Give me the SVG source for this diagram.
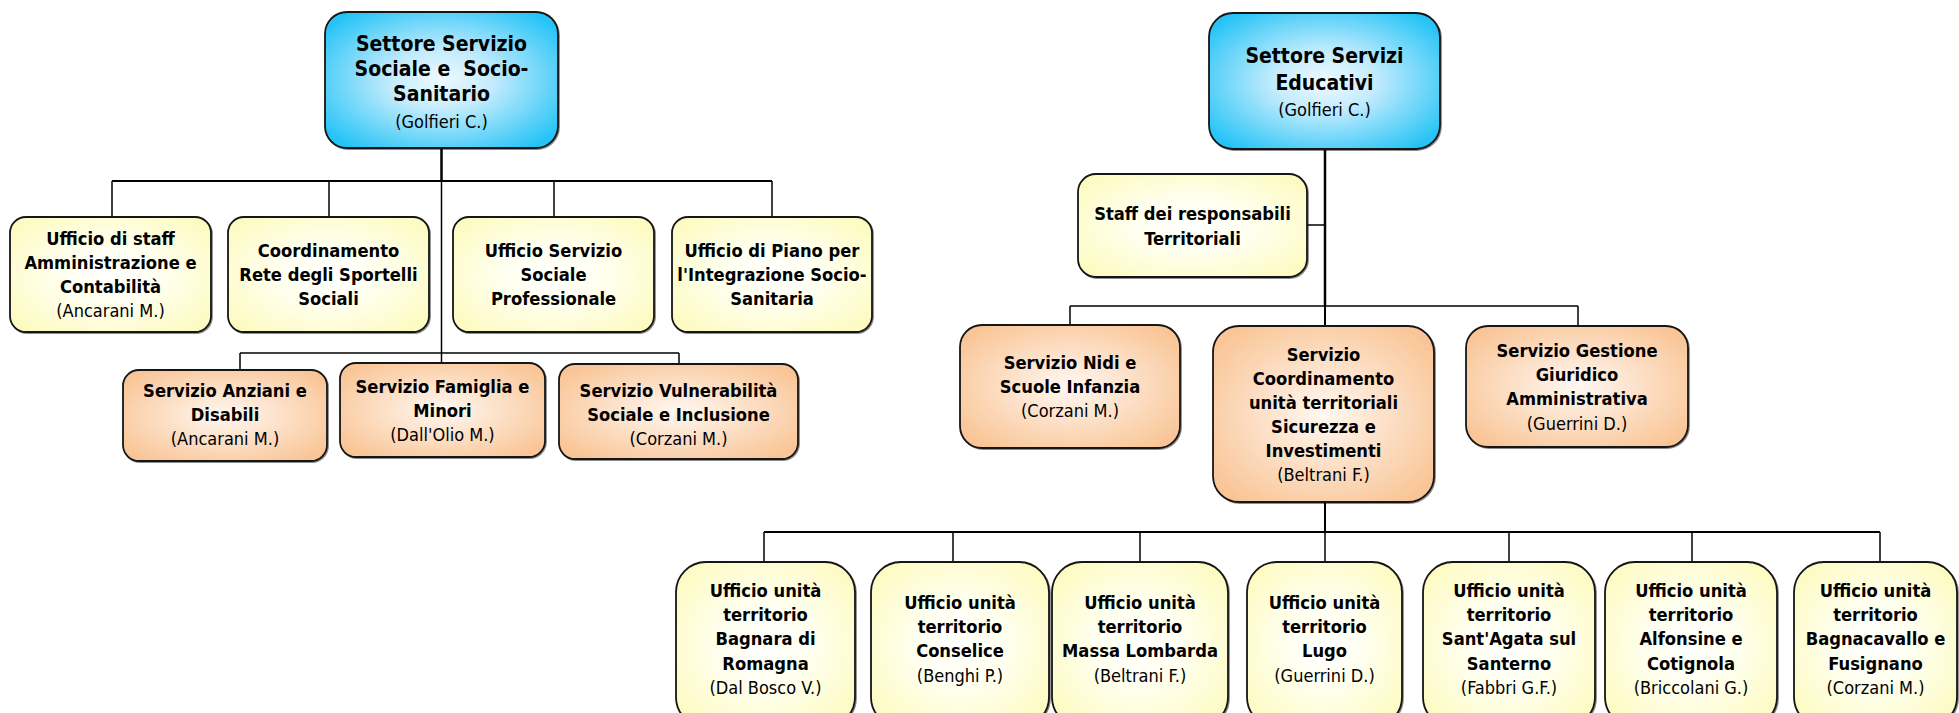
<svg xmlns="http://www.w3.org/2000/svg" width="1959" height="713" viewBox="0 0 1959 713">
<defs>
<radialGradient id="gBlue" cx="0.5" cy="0.5" r="0.62">
<stop offset="0" stop-color="#eef9ff"/>
<stop offset="0.35" stop-color="#c4ecfd"/>
<stop offset="1" stop-color="#27c4f6"/>
</radialGradient>
<radialGradient id="gYellow" cx="0.5" cy="0.5" r="0.62">
<stop offset="0" stop-color="#ffffff"/>
<stop offset="0.4" stop-color="#fffff0"/>
<stop offset="1" stop-color="#fdfbc2"/>
</radialGradient>
<radialGradient id="gOrange" cx="0.5" cy="0.5" r="0.62">
<stop offset="0" stop-color="#fff8f2"/>
<stop offset="0.35" stop-color="#fde6d2"/>
<stop offset="1" stop-color="#f9c596"/>
</radialGradient>
<filter id="sh" x="-5%" y="-5%" width="110%" height="110%">
<feDropShadow dx="1" dy="1" stdDeviation="0.6" flood-color="#000" flood-opacity="0.45"/>
</filter>
</defs>
<style>
.box{stroke:#141414;stroke-width:1.8;filter:url(#sh)}
.blue{fill:url(#gBlue)}
.yel{fill:url(#gYellow)}
.ora{fill:url(#gOrange)}
text{font-family:"DejaVu Sans Condensed","DejaVu Sans",Verdana,sans-serif;font-stretch:condensed;text-anchor:middle;fill:#000}
.t{font-size:21px;font-weight:bold}
.b{font-size:18.2px;font-weight:bold}
.n{font-size:18px;font-weight:normal}
.c{stroke:#000;fill:none}
.w1{stroke-width:1.5}
.w2{stroke-width:2}
.w3{stroke-width:2.5}
</style>
<rect width="1959" height="713" fill="#ffffff"/>

<g id="connectors">
<line class="c w3" x1="441.5" y1="148" x2="441.5" y2="181"/>
<line class="c w2" x1="112" y1="181" x2="772" y2="181"/>
<line class="c w1" x1="112" y1="181" x2="112" y2="217"/>
<line class="c w1" x1="329" y1="181" x2="329" y2="217"/>
<line class="c w1" x1="554" y1="181" x2="554" y2="217"/>
<line class="c w1" x1="772" y1="181" x2="772" y2="217"/>
<line class="c w1" x1="441.5" y1="181" x2="441.5" y2="363"/>
<line class="c w1" x1="240" y1="353" x2="679" y2="353"/>
<line class="c w1" x1="240" y1="353" x2="240" y2="370"/>
<line class="c w1" x1="679" y1="353" x2="679" y2="364"/>

<line class="c w3" x1="1325" y1="149" x2="1325" y2="306"/>
<line class="c w2" x1="1325" y1="306" x2="1325" y2="326"/>
<line class="c w1" x1="1307" y1="225" x2="1325" y2="225"/>
<line class="c w1" x1="1070" y1="306" x2="1578" y2="306"/>
<line class="c w1" x1="1070" y1="306" x2="1070" y2="325"/>
<line class="c w1" x1="1578" y1="306" x2="1578" y2="326"/>
<line class="c w2" x1="1325" y1="502" x2="1325" y2="532"/>
<line class="c w2" x1="764" y1="532" x2="1880" y2="532"/>
<line class="c w1" x1="764" y1="532" x2="764" y2="562"/>
<line class="c w1" x1="953" y1="532" x2="953" y2="562"/>
<line class="c w1" x1="1140" y1="532" x2="1140" y2="562"/>
<line class="c w1" x1="1325" y1="532" x2="1325" y2="562"/>
<line class="c w1" x1="1509" y1="532" x2="1509" y2="562"/>
<line class="c w1" x1="1692" y1="532" x2="1692" y2="562"/>
<line class="c w1" x1="1880" y1="532" x2="1880" y2="562"/>
</g>

<g id="settore-sociale">
<rect class="box blue" x="325" y="12" width="233" height="136" rx="22"/>
<text class="t" x="441.5" y="51">Settore Servizio</text>
<text class="t" x="441.5" y="76" style="white-space:pre">Sociale e  Socio-</text>
<text class="t" x="441.5" y="101">Sanitario</text>
<text class="n" x="441.5" y="128">(Golfieri C.)</text>
</g>

<g id="staff-amministrazione">
<rect class="box yel" x="10" y="217" width="201" height="115" rx="16"/>
<text class="b" x="110.5" y="244.5">Ufficio di staff</text>
<text class="b" x="110.5" y="268.5">Amministrazione e</text>
<text class="b" x="110.5" y="292.5">Contabilità</text>
<text class="n" x="110.5" y="316.5">(Ancarani M.)</text>
</g>

<g id="coordinamento-sportelli">
<rect class="box yel" x="228" y="217" width="201" height="115" rx="16"/>
<text class="b" x="328.5" y="256.5">Coordinamento</text>
<text class="b" x="328.5" y="280.5">Rete degli Sportelli</text>
<text class="b" x="328.5" y="304.5">Sociali</text>
</g>

<g id="servizio-sociale-professionale">
<rect class="box yel" x="453" y="217" width="201" height="115" rx="16"/>
<text class="b" x="553.5" y="256.5">Ufficio Servizio</text>
<text class="b" x="553.5" y="280.5">Sociale</text>
<text class="b" x="553.5" y="304.5">Professionale</text>
</g>

<g id="ufficio-piano">
<rect class="box yel" x="672" y="217" width="200" height="115" rx="16"/>
<text class="b" x="772" y="256.5">Ufficio di Piano per</text>
<text class="b" x="772" y="280.5">l'Integrazione Socio-</text>
<text class="b" x="772" y="304.5">Sanitaria</text>
</g>

<g id="anziani-disabili">
<rect class="box ora" x="123" y="370" width="204" height="91" rx="16"/>
<text class="b" x="225" y="397">Servizio Anziani e</text>
<text class="b" x="225" y="421">Disabili</text>
<text class="n" x="225" y="445">(Ancarani M.)</text>
</g>

<g id="famiglia-minori">
<rect class="box ora" x="340" y="363" width="205" height="94" rx="16"/>
<text class="b" x="442.5" y="393">Servizio Famiglia e</text>
<text class="b" x="442.5" y="417">Minori</text>
<text class="n" x="442.5" y="441">(Dall'Olio M.)</text>
</g>

<g id="vulnerabilita">
<rect class="box ora" x="559" y="364" width="239" height="95" rx="16"/>
<text class="b" x="678.5" y="397">Servizio Vulnerabilità</text>
<text class="b" x="678.5" y="421">Sociale e Inclusione</text>
<text class="n" x="678.5" y="445">(Corzani M.)</text>
</g>

<g id="settore-educativi">
<rect class="box blue" x="1209" y="13" width="231" height="136" rx="24"/>
<text class="t" x="1324.5" y="63">Settore Servizi</text>
<text class="t" x="1324.5" y="90">Educativi</text>
<text class="n" x="1324.5" y="116">(Golfieri C.)</text>
</g>

<g id="staff-responsabili">
<rect class="box yel" x="1078" y="174" width="229" height="103" rx="18"/>
<text class="b" x="1192.5" y="220">Staff dei responsabili</text>
<text class="b" x="1192.5" y="245">Territoriali</text>
</g>

<g id="nidi-infanzia">
<rect class="box ora" x="960" y="325" width="220" height="123" rx="22"/>
<text class="b" x="1070" y="368.5">Servizio Nidi e</text>
<text class="b" x="1070" y="392.5">Scuole Infanzia</text>
<text class="n" x="1070" y="416.5">(Corzani M.)</text>
</g>

<g id="coordinamento-unita">
<rect class="box ora" x="1213" y="326" width="221" height="176" rx="26"/>
<text class="b" x="1323.5" y="361">Servizio</text>
<text class="b" x="1323.5" y="385">Coordinamento</text>
<text class="b" x="1323.5" y="409">unità territoriali</text>
<text class="b" x="1323.5" y="433">Sicurezza e</text>
<text class="b" x="1323.5" y="457">Investimenti</text>
<text class="n" x="1323.5" y="481">(Beltrani F.)</text>
</g>

<g id="gestione-giuridico">
<rect class="box ora" x="1466" y="326" width="222" height="121" rx="22"/>
<text class="b" x="1577" y="357">Servizio Gestione</text>
<text class="b" x="1577" y="381">Giuridico</text>
<text class="b" x="1577" y="405">Amministrativa</text>
<text class="n" x="1577" y="430">(Guerrini D.)</text>
</g>

<g id="unita-bagnara">
<rect class="box yel" x="676" y="562" width="179" height="165" rx="30"/>
<text class="b" x="765.5" y="597">Ufficio unità</text>
<text class="b" x="765.5" y="621">territorio</text>
<text class="b" x="765.5" y="645">Bagnara di</text>
<text class="b" x="765.5" y="670">Romagna</text>
<text class="n" x="765.5" y="694">(Dal Bosco V.)</text>
</g>

<g id="unita-conselice">
<rect class="box yel" x="871" y="562" width="178" height="165" rx="30"/>
<text class="b" x="960" y="609">Ufficio unità</text>
<text class="b" x="960" y="633">territorio</text>
<text class="b" x="960" y="657">Conselice</text>
<text class="n" x="960" y="682">(Benghi P.)</text>
</g>

<g id="unita-massa">
<rect class="box yel" x="1052" y="562" width="176" height="165" rx="30"/>
<text class="b" x="1140" y="609">Ufficio unità</text>
<text class="b" x="1140" y="633">territorio</text>
<text class="b" x="1140" y="657">Massa Lombarda</text>
<text class="n" x="1140" y="682">(Beltrani F.)</text>
</g>

<g id="unita-lugo">
<rect class="box yel" x="1247" y="562" width="155" height="165" rx="30"/>
<text class="b" x="1324.5" y="609">Ufficio unità</text>
<text class="b" x="1324.5" y="633">territorio</text>
<text class="b" x="1324.5" y="657">Lugo</text>
<text class="n" x="1324.5" y="682">(Guerrini D.)</text>
</g>

<g id="unita-santagata">
<rect class="box yel" x="1423" y="562" width="172" height="165" rx="30"/>
<text class="b" x="1509" y="597">Ufficio unità</text>
<text class="b" x="1509" y="621">territorio</text>
<text class="b" x="1509" y="645">Sant'Agata sul</text>
<text class="b" x="1509" y="670">Santerno</text>
<text class="n" x="1509" y="694">(Fabbri G.F.)</text>
</g>

<g id="unita-alfonsine">
<rect class="box yel" x="1605" y="562" width="172" height="165" rx="30"/>
<text class="b" x="1691" y="597">Ufficio unità</text>
<text class="b" x="1691" y="621">territorio</text>
<text class="b" x="1691" y="645">Alfonsine e</text>
<text class="b" x="1691" y="670">Cotignola</text>
<text class="n" x="1691" y="694">(Briccolani G.)</text>
</g>

<g id="unita-bagnacavallo">
<rect class="box yel" x="1794" y="562" width="163" height="165" rx="30"/>
<text class="b" x="1875.5" y="597">Ufficio unità</text>
<text class="b" x="1875.5" y="621">territorio</text>
<text class="b" x="1875.5" y="645">Bagnacavallo e</text>
<text class="b" x="1875.5" y="670">Fusignano</text>
<text class="n" x="1875.5" y="694">(Corzani M.)</text>
</g>
</svg>
